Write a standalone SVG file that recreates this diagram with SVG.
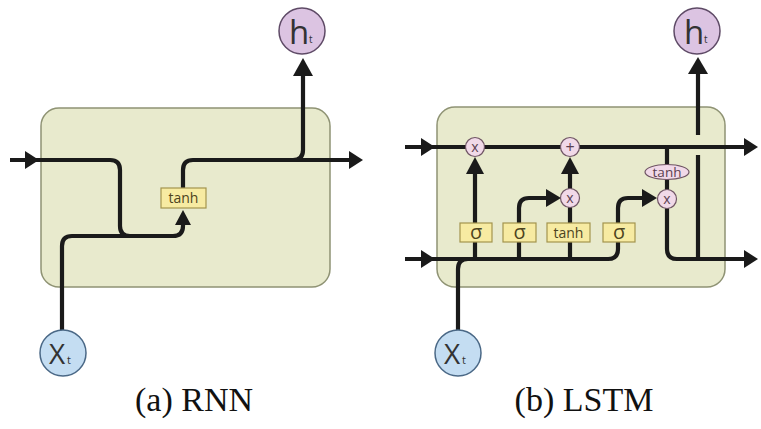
<svg xmlns="http://www.w3.org/2000/svg" width="761" height="429" viewBox="0 0 761 429">
<style>
.cell{fill:#e8eacd;stroke:#8f9374;stroke-width:1.5}
.wire{fill:none;stroke:#1a1a1a;stroke-width:4.2;stroke-linecap:butt}
.head{fill:#1a1a1a}
.layer{fill:#f7eba2;stroke:#a3944e;stroke-width:1.2}
.ltxt{font-family:"Open Sans","DejaVu Sans",sans-serif;fill:#4d4420;text-anchor:middle}
.op{fill:#f1d9e8;stroke:#6f5564;stroke-width:1.2}
.optxt{font-family:"Open Sans","DejaVu Sans",sans-serif;fill:#5a4050;text-anchor:middle}
.hcirc{fill:#dcc4e2;stroke:#5e4a66;stroke-width:1.5}
.xcirc{fill:#c4ddf2;stroke:#4a6886;stroke-width:1.5}
.io{font-family:"Open Sans","DejaVu Sans",sans-serif;fill:#333;}
.cap{font-family:"Liberation Serif","Times New Roman",serif;font-size:34px;fill:#111;text-anchor:middle}
</style>

<!-- ===== RNN ===== -->
<g id="rnn-cell"><rect class="cell" x="41" y="108" width="289" height="179" rx="18"/></g>

<g id="rnn-connectors">
  <path class="wire" d="M10 160 H110 Q120 160 120 170 V226 Q120 236 130 236"/>
  <path class="wire" d="M62 330 V246 Q62 236 72 236 H173 Q183 236 183 226 V222"/>
  <path class="wire" d="M183 188 V170 Q183 160 193 160 H350"/>
  <path class="wire" d="M293 160 Q303 160 303 150 V74"/>
  <polygon class="head" points="25,151 39,160 25,169"/>
  <polygon class="head" points="175,225 183,210 191,225"/>
  <polygon class="head" points="349,151 363,160 349,169"/>
  <polygon class="head" points="293,76 303,58 313,76"/>
</g>

<g id="rnn-tanh"><rect class="layer" x="161" y="188" width="45" height="20"/><text class="ltxt" x="183.5" y="203" font-size="14">tanh</text></g>
<g id="rnn-h"><circle class="hcirc" cx="302" cy="31" r="23"/><text class="io" x="289" y="44" font-size="33">h</text><text class="io" x="309" y="43" font-size="10">t</text></g>
<g id="rnn-x"><circle class="xcirc" cx="63" cy="353" r="23"/><text class="io" x="49" y="364" font-size="28">X</text><text class="io" x="67" y="364" font-size="11">t</text></g>
<text class="cap" x="194" y="411">(a) RNN</text>

<!-- ===== LSTM ===== -->
<g id="lstm-cell"><rect class="cell" x="437" y="107" width="288" height="180" rx="18"/></g>

<g id="lstm-connectors">
  <path class="wire" d="M405 147 H744"/>
  <path class="wire" d="M405 259 H608 Q618 259 618 249 V208 Q618 198 628 198 H645"/>
  <path class="wire" d="M458 330 V269 Q458 259 468 259"/>
  <path class="wire" d="M475 259 V172"/>
  <path class="wire" d="M519 259 V208 Q519 198 529 198 H548"/>
  <path class="wire" d="M570 259 V172"/>
  <path class="wire" d="M667 147 V249 Q667 259 677 259 H744"/>
  <path class="wire" d="M698 259 V155"/>
  <path class="wire" d="M698 135 V72"/>
  <polygon class="head" points="421,138 435,147 421,156"/>
  <polygon class="head" points="421,250 435,259 421,268"/>
  <polygon class="head" points="744,138 758,147 744,156"/>
  <polygon class="head" points="744,250 758,259 744,268"/>
  <polygon class="head" points="466,174 475,157 484,174"/>
  <polygon class="head" points="561,174 570,157 579,174"/>
  <polygon class="head" points="546,189 561,198 546,207"/>
  <polygon class="head" points="642,189 657,198 642,207"/>
  <polygon class="head" points="688,74 698,57 708,74"/>
</g>

<g id="lstm-sigma-f"><rect class="layer" x="460" y="223" width="32" height="19"/><text class="ltxt" x="476" y="239" font-size="20">σ</text></g>
<g id="lstm-sigma-i"><rect class="layer" x="503" y="223" width="33" height="19"/><text class="ltxt" x="519.5" y="239" font-size="20">σ</text></g>
<g id="lstm-tanh"><rect class="layer" x="547" y="223" width="43" height="19"/><text class="ltxt" x="568.5" y="237.5" font-size="14">tanh</text></g>
<g id="lstm-sigma-o"><rect class="layer" x="603" y="223" width="32" height="19"/><text class="ltxt" x="619" y="239" font-size="20">σ</text></g>

<g id="lstm-mul-f"><circle class="op" cx="475" cy="147" r="9.5"/><text class="optxt" x="475" y="152" font-size="14">x</text></g>
<g id="lstm-add"><circle class="op" cx="570" cy="147" r="9.5"/><text class="optxt" x="570" y="152.5" font-size="16">+</text></g>
<g id="lstm-mul-i"><circle class="op" cx="570" cy="198" r="9.5"/><text class="optxt" x="570" y="203" font-size="14">x</text></g>
<g id="lstm-tanh-c"><ellipse class="op" cx="667" cy="172" rx="22" ry="7.5"/><text class="optxt" x="667" y="177" font-size="13.5">tanh</text></g>
<g id="lstm-mul-o"><circle class="op" cx="667" cy="199" r="9.5"/><text class="optxt" x="667" y="204" font-size="14">x</text></g>

<g id="lstm-h"><circle class="hcirc" cx="697" cy="31" r="23"/><text class="io" x="684" y="44" font-size="33">h</text><text class="io" x="704" y="43" font-size="10">t</text></g>
<g id="lstm-x"><circle class="xcirc" cx="458" cy="353" r="23"/><text class="io" x="444" y="364" font-size="28">X</text><text class="io" x="462" y="364" font-size="11">t</text></g>
<text class="cap" x="584" y="411">(b) LSTM</text>
</svg>
